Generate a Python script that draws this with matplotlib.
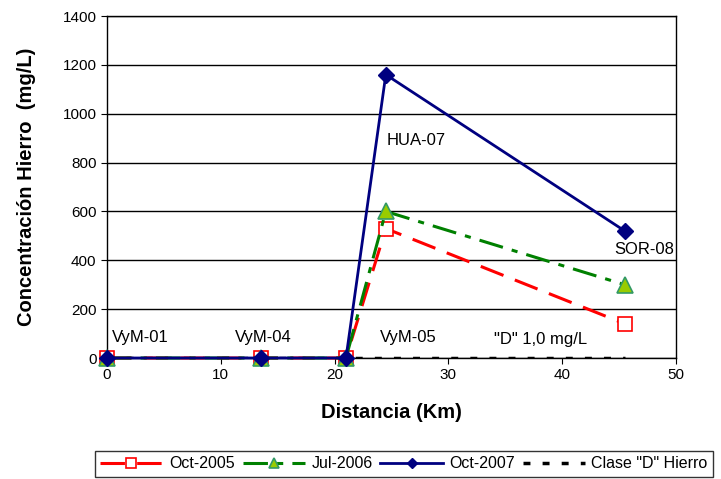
import matplotlib
matplotlib.use("Agg")
import matplotlib.pyplot as plt

plt.rcParams['font.family'] = ['Liberation Sans', 'DejaVu Sans']

distancia = [0, 13.5, 21, 24.5, 45.5]
oct2005 = [0, 0, 0, 530, 140]
jul2006 = [0, 0, 0, 600, 300]
oct2007 = [0, 0, 0, 1160, 520]
clase_x = [0, 45.5]
clase_d = [1.0, 1.0]

labels = ["VyM-01", "VyM-04", "VyM-05", "HUA-07", "SOR-08"]

fig = plt.figure(figsize=(7.21, 4.79), dpi=100)
ax = fig.add_axes([107/721, 1-358/479, (676-107)/721, (358-16)/479])

ax.plot(distancia, oct2005, color='red', lw=2.2, dashes=(8, 4), marker='s', ms=10,
        mfc='white', mec='red', mew=1.2, label='Oct-2005', zorder=3, clip_on=False)
ax.plot(distancia, jul2006, color='green', lw=2.2, dashes=(8, 3, 2, 3), marker='^', ms=11,
        mfc='#99cc00', mec='#339966', mew=1.2, label='Jul-2006', zorder=4, clip_on=False)
ax.plot(distancia, oct2007, color='#000080', lw=2, marker='D', ms=8,
        mfc='#000080', mec='#000080', label='Oct-2007', zorder=5, clip_on=False)
ax.plot(clase_x, clase_d, color='black', lw=2.5, dashes=(2, 3.5), label='Clase "D" Hierro', zorder=2)

ax.set_xlim(0, 50)
ax.set_ylim(0, 1400)
ax.set_xticks(range(0, 51, 10))
ax.set_yticks(range(0, 1401, 200))
ax.yaxis.grid(True, color='black', lw=1)
ax.set_axisbelow(True)
ax.tick_params(labelsize=11, direction='out', length=4)
for s in ax.spines.values():
    s.set_linewidth(1)

ax.set_xlabel('Distancia (Km)', fontsize=14.5, fontweight='bold')
ax.set_ylabel('Concentración Hierro  (mg/L)', fontsize=14.5, fontweight='bold')
ax.xaxis.set_label_coords(0.5, -(413-358)/342, transform=ax.transAxes)
ax.yaxis.set_label_coords(-(107-27)/569, 0.5, transform=ax.transAxes)
ax.xaxis.label.set_va('center')
ax.yaxis.label.set_va('center')

fs = 12
ax.text(0.4, 55, labels[0], fontsize=fs, ha='left', va='bottom')
ax.text(11.2, 55, labels[1], fontsize=fs, ha='left', va='bottom')
ax.text(24.0, 55, labels[2], fontsize=fs, ha='left', va='bottom')
ax.text(24.6, 860, labels[3], fontsize=fs, ha='left', va='bottom')
ax.text(44.6, 415, labels[4], fontsize=fs, ha='left', va='bottom')
ax.text(34.0, 45, '"D" 1,0 mg/L', fontsize=fs, ha='left', va='bottom')

leg = fig.legend(loc='lower center', bbox_to_anchor=(404/721, 2/479),
                 ncol=4, fontsize=11.5, frameon=True, fancybox=False,
                 edgecolor='black', handlelength=3.9, borderpad=0.35, handletextpad=0.4,
                 columnspacing=0.5, markerscale=0.65, borderaxespad=0)
leg.get_frame().set_linewidth(1)

fig.savefig('out.png', dpi=100)
